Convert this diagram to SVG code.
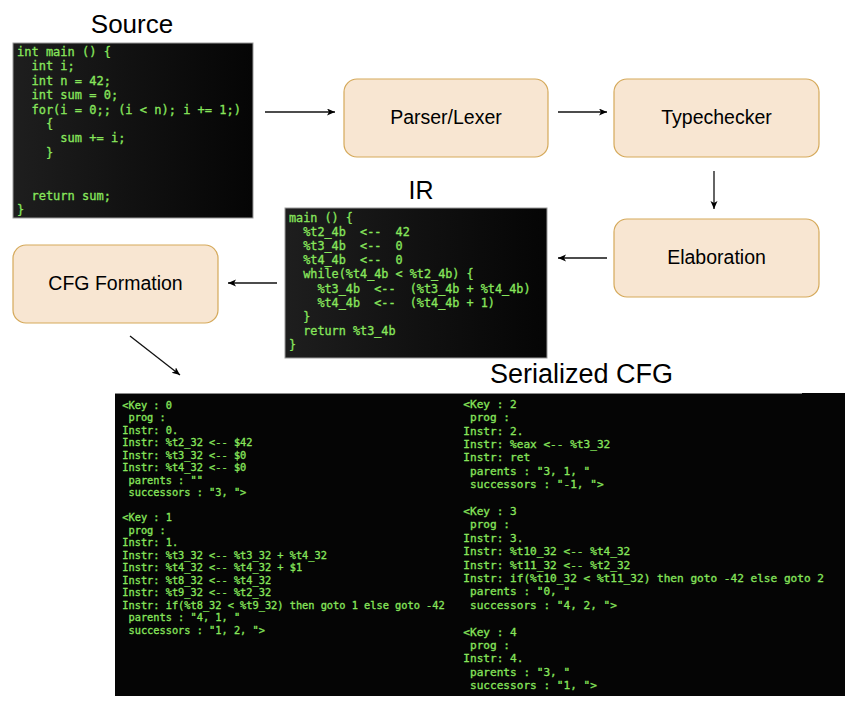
<svg xmlns="http://www.w3.org/2000/svg" width="860" height="716" viewBox="0 0 860 716">
<defs>
<linearGradient id="term" x1="0" y1="0" x2="1" y2="0">
<stop offset="0" stop-color="#1e1e1e"/>
<stop offset="0.5" stop-color="#111111"/>
<stop offset="1" stop-color="#050505"/>
</linearGradient>
<marker id="arr" markerWidth="10" markerHeight="8" refX="8" refY="3.5" orient="auto" markerUnits="userSpaceOnUse">
<path d="M0,0 L8,3.5 L0,7 L2,3.5 z" fill="#000"/>
</marker>
<style>
.box{fill:#f8e6d2;stroke:#d5a95a;stroke-width:1.2}
.lbl{font-family:"Liberation Sans",Arial,sans-serif;font-size:19.5px;fill:#000;text-anchor:middle}
.title{font-family:"Liberation Sans",Arial,sans-serif;fill:#000}
.code{font-family:"DejaVu Sans Mono","Liberation Mono",monospace;fill:#88e65c;stroke:#88e65c;stroke-width:0.3}
.panel{fill:url(#term);stroke:#9a9a9a;stroke-width:1}
.conn{stroke:#111;stroke-width:1.3;fill:none;marker-end:url(#arr)}
</style>
</defs>
<rect width="860" height="716" fill="#fff"/>

<g id="source">
<text class="title" x="132" y="33" font-size="26" text-anchor="middle">Source</text>
<rect class="panel" x="13" y="43" width="240" height="175"/>
<g class="code" font-size="12">
<text x="17" y="56">int main () {</text>
<text x="17" y="70.4">&#160;&#160;int i;</text>
<text x="17" y="84.8">&#160;&#160;int n = 42;</text>
<text x="17" y="99.2">&#160;&#160;int sum = 0;</text>
<text x="17" y="113.6">&#160;&#160;for(i = 0;; (i &lt; n); i += 1;)</text>
<text x="17" y="128">&#160;&#160;&#160;&#160;{</text>
<text x="17" y="142.4">&#160;&#160;&#160;&#160;&#160;&#160;sum += i;</text>
<text x="17" y="156.8">&#160;&#160;&#160;&#160;}</text>
<text x="17" y="200">&#160;&#160;return sum;</text>
<text x="17" y="214.4">}</text>
</g>
</g>

<g id="parser">
<rect class="box" x="344" y="79" width="204" height="78" rx="13"/>
<text class="lbl" x="446" y="124">Parser/Lexer</text>
</g>

<g id="typechecker">
<rect class="box" x="614" y="79" width="205" height="78" rx="13"/>
<text class="lbl" x="716.5" y="124">Typechecker</text>
</g>

<g id="elaboration">
<rect class="box" x="614" y="219" width="205" height="78" rx="13"/>
<text class="lbl" x="716.5" y="264">Elaboration</text>
</g>

<g id="ir">
<text class="title" x="421" y="199" font-size="25" text-anchor="middle">IR</text>
<rect class="panel" x="285" y="208" width="262" height="150"/>
<g class="code" font-size="11.8">
<text x="289" y="221.8">main () {</text>
<text x="289" y="235.9">&#160;&#160;%t2_4b&#160;&#160;&lt;--&#160;&#160;42</text>
<text x="289" y="250.1">&#160;&#160;%t3_4b&#160;&#160;&lt;--&#160;&#160;0</text>
<text x="289" y="264.2">&#160;&#160;%t4_4b&#160;&#160;&lt;--&#160;&#160;0</text>
<text x="289" y="278.4">&#160;&#160;while(%t4_4b &lt; %t2_4b) {</text>
<text x="289" y="292.5">&#160;&#160;&#160;&#160;%t3_4b&#160;&#160;&lt;--&#160;&#160;(%t3_4b + %t4_4b)</text>
<text x="289" y="306.7">&#160;&#160;&#160;&#160;%t4_4b&#160;&#160;&lt;--&#160;&#160;(%t4_4b + 1)</text>
<text x="289" y="320.8">&#160;&#160;}</text>
<text x="289" y="335">&#160;&#160;return %t3_4b</text>
<text x="289" y="349.1">}</text>
</g>
</g>

<g id="cfg-formation">
<rect class="box" x="13" y="245" width="205" height="78" rx="13"/>
<text class="lbl" x="115.5" y="290">CFG Formation</text>
</g>

<g id="serialized-cfg">
<text class="title" x="490" y="383" font-size="27">Serialized CFG</text>
<rect x="115" y="393" width="730" height="303" fill="#050505"/>
<line x1="115" y1="393.5" x2="802" y2="393.5" stroke="#8a8a8a" stroke-width="1"/>
<g class="code" font-size="10.3">
<text x="122.3" y="408.5">&lt;Key : 0</text>
<text x="122.3" y="421">&#160;prog :</text>
<text x="122.3" y="433.5">Instr: 0.</text>
<text x="122.3" y="446">Instr: %t2_32 &lt;-- $42</text>
<text x="122.3" y="458.5">Instr: %t3_32 &lt;-- $0</text>
<text x="122.3" y="471">Instr: %t4_32 &lt;-- $0</text>
<text x="122.3" y="483.5">&#160;parents : ""</text>
<text x="122.3" y="496">&#160;successors : "3, "&gt;</text>
<text x="122.3" y="521">&lt;Key : 1</text>
<text x="122.3" y="533.5">&#160;prog :</text>
<text x="122.3" y="546">Instr: 1.</text>
<text x="122.3" y="558.5">Instr: %t3_32 &lt;-- %t3_32 + %t4_32</text>
<text x="122.3" y="571">Instr: %t4_32 &lt;-- %t4_32 + $1</text>
<text x="122.3" y="583.5">Instr: %t8_32 &lt;-- %t4_32</text>
<text x="122.3" y="596">Instr: %t9_32 &lt;-- %t2_32</text>
<text x="122.3" y="608.5">Instr: if(%t8_32 &lt; %t9_32) then goto 1 else goto -42</text>
<text x="122.3" y="621">&#160;parents : "4, 1, "</text>
<text x="122.3" y="633.5">&#160;successors : "1, 2, "&gt;</text>
</g>
<g class="code" font-size="11.1">
<text x="463.3" y="407.8">&lt;Key : 2</text>
<text x="463.3" y="421.2">&#160;prog :</text>
<text x="463.3" y="434.6">Instr: 2.</text>
<text x="463.3" y="448">Instr: %eax &lt;-- %t3_32</text>
<text x="463.3" y="461.4">Instr: ret</text>
<text x="463.3" y="474.8">&#160;parents : "3, 1, "</text>
<text x="463.3" y="488.2">&#160;successors : "-1, "&gt;</text>
<text x="463.3" y="515">&lt;Key : 3</text>
<text x="463.3" y="528.4">&#160;prog :</text>
<text x="463.3" y="541.8">Instr: 3.</text>
<text x="463.3" y="555.2">Instr: %t10_32 &lt;-- %t4_32</text>
<text x="463.3" y="568.6">Instr: %t11_32 &lt;-- %t2_32</text>
<text x="463.3" y="582">Instr: if(%t10_32 &lt; %t11_32) then goto -42 else goto 2</text>
<text x="463.3" y="595.4">&#160;parents : "0, "</text>
<text x="463.3" y="608.8">&#160;successors : "4, 2, "&gt;</text>
<text x="463.3" y="635.6">&lt;Key : 4</text>
<text x="463.3" y="649">&#160;prog :</text>
<text x="463.3" y="662.4">Instr: 4.</text>
<text x="463.3" y="675.8">&#160;parents : "3, "</text>
<text x="463.3" y="689.2">&#160;successors : "1, "&gt;</text>
</g>
</g>

<g id="connectors">
<line class="conn" x1="265" y1="112" x2="335" y2="112"/>
<line class="conn" x1="558" y1="112" x2="607" y2="112"/>
<line class="conn" x1="714" y1="171" x2="714" y2="209"/>
<line class="conn" x1="607" y1="258" x2="558" y2="258"/>
<line class="conn" x1="277" y1="283" x2="228" y2="283"/>
<line class="conn" x1="130" y1="336" x2="180" y2="375"/>
</g>
</svg>
